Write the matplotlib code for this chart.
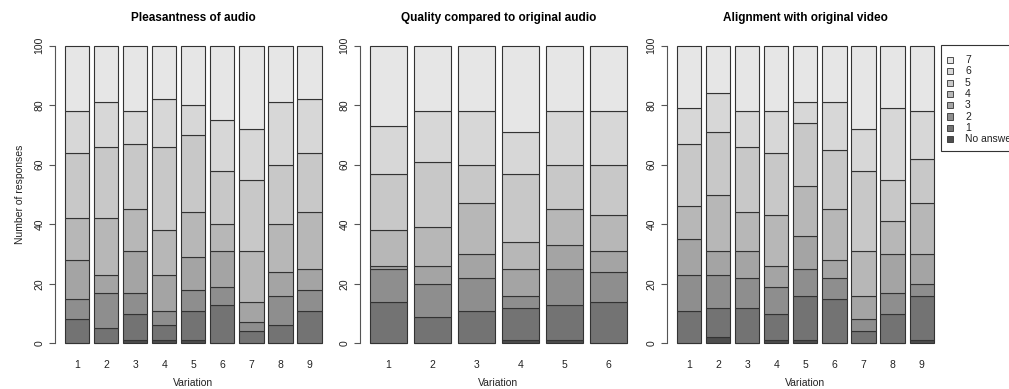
import numpy as np
import matplotlib.pyplot as plt
from matplotlib.patches import Rectangle

plt.rcParams['font.family'] = ['Liberation Sans', 'DejaVu Sans']

levels = ["No answer", "1", "2", "3", "4", "5", "6", "7"]

# counts per answer level (No answer, 1 .. 7), one entry per variation
pleasant_na = [0, 0, 1, 1, 1, 0, 0, 0, 0]
pleasant_1 = [8, 5, 9, 5, 10, 13, 4, 6, 11]
pleasant_2 = [7, 12, 7, 5, 7, 6, 3, 10, 7]
pleasant_3 = [13, 6, 14, 12, 11, 12, 7, 8, 7]
pleasant_4 = [14, 19, 14, 15, 15, 9, 17, 16, 19]
pleasant_5 = [22, 24, 22, 28, 26, 18, 24, 20, 20]
pleasant_6 = [14, 15, 11, 16, 10, 17, 17, 21, 18]
pleasant_7 = [22, 19, 22, 18, 20, 25, 28, 19, 18]

quality_na = [0, 0, 0, 1, 1, 0]
quality_1 = [14, 9, 11, 11, 12, 14]
quality_2 = [11, 11, 11, 4, 12, 10]
quality_3 = [1, 6, 8, 9, 8, 7]
quality_4 = [12, 13, 17, 9, 12, 12]
quality_5 = [19, 22, 13, 23, 15, 17]
quality_6 = [16, 17, 18, 14, 18, 18]
quality_7 = [27, 22, 22, 29, 22, 22]

align_na = [0, 2, 0, 1, 1, 0, 0, 0, 1]
align_1 = [11, 10, 12, 9, 15, 15, 4, 10, 15]
align_2 = [12, 11, 10, 9, 9, 7, 4, 7, 4]
align_3 = [12, 8, 9, 7, 11, 6, 8, 13, 10]
align_4 = [11, 19, 13, 17, 17, 17, 15, 11, 17]
align_5 = [21, 21, 22, 21, 21, 20, 27, 14, 15]
align_6 = [12, 13, 12, 14, 7, 16, 14, 24, 16]
align_7 = [21, 16, 22, 22, 19, 19, 28, 21, 22]

panels = [
    ("Pleasantness of audio", [pleasant_na, pleasant_1, pleasant_2, pleasant_3,
                               pleasant_4, pleasant_5, pleasant_6, pleasant_7]),
    ("Quality compared to original audio", [quality_na, quality_1, quality_2, quality_3,
                                            quality_4, quality_5, quality_6, quality_7]),
    ("Alignment with original video", [align_na, align_1, align_2, align_3,
                                       align_4, align_5, align_6, align_7]),
]

# R gray.colors(8)
g = np.linspace(0.3 ** 2.2, 0.9 ** 2.2, 8) ** (1 / 2.2)
colors = [(v, v, v) for v in g]

W, H = 1009, 389
fig = plt.figure(figsize=(W / 100, H / 100), dpi=100)

lefts = [0.0542, 0.3565, 0.6608]
for k in range(3):
    title, counts = panels[k]
    counts = np.array(counts)
    n = counts.shape[1]
    ax = fig.add_axes([lefts[k], 0.0869, 0.2748, 0.8262])
    x = 0.7 + 1.2 * np.arange(n)
    bottom = np.zeros(n)
    for j in range(8):
        ax.bar(x, counts[j], width=1.0, bottom=bottom, color=colors[j],
               edgecolor='#333333', linewidth=0.8)
        bottom += counts[j]
    span = 1.2 * n - 0.2
    ax.set_xlim(0.2 - 0.04 * span, 0.2 + span + 0.04 * span)
    ax.set_ylim(-4, 104)
    for s in ['top', 'right', 'bottom']:
        ax.spines[s].set_visible(False)
    ax.spines['left'].set_bounds(0, 100)
    ax.spines['left'].set_color('#555555')
    ax.spines['left'].set_linewidth(0.8)
    ax.set_yticks([0, 20, 40, 60, 80, 100])
    ax.tick_params(axis='y', length=4.5, width=0.8, color='#555555', pad=3,
                   labelsize=7.5, labelcolor='#222222')
    for lab in ax.get_yticklabels():
        lab.set_rotation(90)
        lab.set_va('center')
    ax.set_xticks(x)
    ax.set_xticklabels([str(i + 1) for i in range(n)])
    ax.tick_params(axis='x', length=0, pad=3.5, labelsize=7.5, labelcolor='#222222')
    ax.set_xlabel("Variation", fontsize=7.5, labelpad=5.5, color='#222222')
    ax.set_title(title, fontsize=8.5, fontweight='bold', pad=9.5)
    if k == 0:
        ax.set_ylabel("Number of responses", fontsize=7.5, labelpad=7, color='#222222')

# legend box hanging off the right edge, like R's legend with xpd=TRUE
def fx(px):
    return px / W

def fy(py):
    return 1 - py / H

fig.patches.append(Rectangle((fx(941), fy(150.7)), fx(1020) - fx(941), fy(45) - fy(150.7),
                             transform=fig.transFigure, facecolor='white',
                             edgecolor='#333333', linewidth=0.8))
for i, j in enumerate(range(7, -1, -1)):
    yc = 60 + i * 11.3
    fig.patches.append(Rectangle((fx(946.7), fy(yc + 3)), fx(6), 6 / H,
                                 transform=fig.transFigure, facecolor=colors[j],
                                 edgecolor='#333333', linewidth=0.6))
    fig.text(fx(965), fy(yc), levels[j], fontsize=7.5, color='#222222',
             ha='left', va='center')

fig.savefig("out.png", dpi=100)
